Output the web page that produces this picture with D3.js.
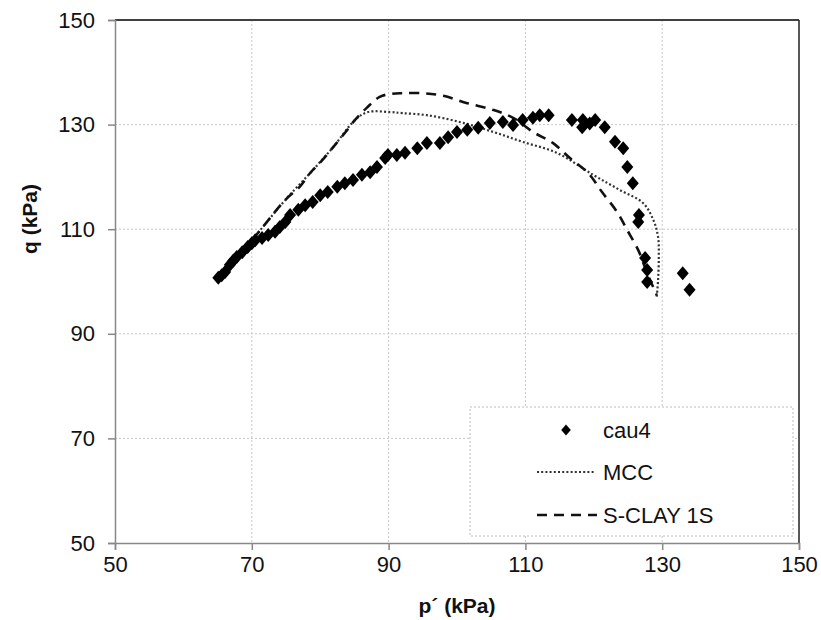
<!DOCTYPE html>
<html>
<head>
<meta charset="utf-8">
<script src="https://cdn.jsdelivr.net/npm/d3@7/dist/d3.min.js"></script>
<style>
  html, body { margin: 0; padding: 0; background: #fff; }
  svg text { font-family: "Liberation Sans", Arial, sans-serif; }
</style>
</head>
<body>
<svg id="chart" width="821" height="620"></svg>
<script>
// ---- data ----
const xTicks = [50, 70, 90, 110, 130, 150];
const yTicks = [50, 70, 90, 110, 130, 150];

const cau4P = [65.1, 65.6, 66.1, 66.8, 67.3, 67.8, 68.6, 69.4, 70.0, 70.5, 71.5, 72.4, 73.4, 74.1, 74.9, 75.6, 76.8, 77.8,
  78.9, 80.0, 81.1, 82.5, 83.6, 84.8, 86.1, 87.3, 88.3, 89.5, 89.9, 91.2, 92.4, 94.2, 95.6, 97.5, 98.7,
  100.0, 101.5, 103.1, 104.8, 106.7, 108.2, 109.6, 111.1, 112.1, 113.4,
  116.8, 118.3, 118.4, 119.4, 120.2, 121.6, 123.1, 124.3, 124.9, 125.7, 126.6, 126.5, 127.5, 127.8, 127.8,
  133.0, 134.0];
const cau4Q = [100.7, 101.2, 101.8, 103.2, 104.0, 104.7, 105.6, 106.6, 107.3, 107.9, 108.3, 108.9, 109.5, 110.4, 111.4, 112.7, 113.7, 114.6,
  115.2, 116.5, 117.1, 118.1, 118.8, 119.4, 120.4, 120.9, 121.9, 123.6, 124.2, 124.2, 124.6, 125.5, 126.5, 126.5, 127.6,
  128.6, 129.0, 129.4, 130.3, 130.5, 129.9, 130.9, 131.3, 131.8, 131.8,
  130.9, 129.5, 130.9, 130.2, 130.9, 129.5, 126.7, 125.5, 121.9, 118.8, 112.7, 111.4, 104.5, 102.2, 99.9,
  101.6, 98.4];

const mccP = [65.5, 71.6, 74.9, 78.5, 81.9, 85.1, 87.0, 90.2, 92.0, 95.6, 100.4, 105.3, 109.6, 114.6,
  119.9, 123.8, 127.2, 128.7, 129.4, 129.5, 129.4, 129.2];
const mccQ = [100.5, 110.4, 115.6, 120.7, 125.7, 130.9, 132.4, 132.4, 132.2, 131.8, 130.5, 128.6, 126.7, 124.6,
  120.4, 117.5, 115.0, 111.8, 108.5, 104.7, 100.3, 97.0];

const sclayP = [65.5, 71.6, 74.9, 77.0, 78.5, 80.3, 81.9, 83.6, 85.1, 86.8, 88.7, 90.5, 92.1, 95.0, 98.0,
  101.5, 105.3, 108.2, 111.1, 114.0, 116.5, 119.2, 121.2, 123.4, 124.9, 126.5, 127.8, 129.2];
const sclayQ = [100.5, 110.4, 115.6, 118.1, 120.7, 123.2, 125.7, 128.4, 130.9, 133.2, 135.3, 135.9, 136.0, 136.0, 135.5,
  134.1, 132.8, 131.3, 128.6, 126.5, 123.6, 120.7, 117.1, 113.3, 109.8, 106.0, 101.6, 97.4];

const seriesNames = ["cau4", "MCC", "S-CLAY 1S"];

// ---- layout ----
const svg = d3.select("#chart");
const m = { left: 115, top: 20, right: 799, bottom: 543 };
const x = d3.scaleLinear().domain([50, 150]).range([m.left, m.right]);
const y = d3.scaleLinear().domain([50, 150]).range([m.bottom, m.top]);

// gridlines
const grid = svg.append("g");
grid.selectAll("line.gx").data(xTicks.slice(1, -1)).enter().append("line")
  .attr("x1", d => x(d)).attr("x2", d => x(d)).attr("y1", m.top).attr("y2", m.bottom)
  .attr("stroke", "#c8c8c8").attr("stroke-width", 1).attr("stroke-dasharray", "2,2");
grid.selectAll("line.gy").data(yTicks.slice(1, -1)).enter().append("line")
  .attr("x1", m.left).attr("x2", m.right).attr("y1", d => y(d)).attr("y2", d => y(d))
  .attr("stroke", "#c8c8c8").attr("stroke-width", 1).attr("stroke-dasharray", "2,2");

// frame top/right dark
svg.append("line").attr("x1", m.left).attr("x2", m.right).attr("y1", m.top).attr("y2", m.top)
  .attr("stroke", "#404040").attr("stroke-width", 2);
svg.append("line").attr("x1", m.right).attr("x2", m.right).attr("y1", m.top).attr("y2", m.bottom)
  .attr("stroke", "#202020").attr("stroke-width", 1.5);

// axes
const xAxis = d3.axisBottom(x).tickValues(xTicks).tickSizeOuter(0).tickSize(7).tickPadding(6);
const yAxis = d3.axisLeft(y).tickValues(yTicks).tickSizeOuter(0).tickSize(7).tickPadding(13);
const gx = svg.append("g").attr("transform", `translate(0,${m.bottom})`).call(xAxis);
const gy = svg.append("g").attr("transform", `translate(${m.left},0)`).call(yAxis);
[gx, gy].forEach(g => {
  g.select(".domain").attr("stroke", "#888").attr("stroke-width", 1.5);
  g.selectAll(".tick line").attr("stroke", "#888").attr("stroke-width", 1.5);
  g.selectAll(".tick text").attr("font-size", 22).attr("fill", "#111")
    .style("font-family", '"Liberation Sans", Arial, sans-serif');
});

// axis titles
svg.append("text").attr("x", (m.left + m.right) / 2).attr("y", 613)
  .attr("text-anchor", "middle").attr("font-size", 21).attr("font-weight", "bold").attr("fill", "#111")
  .text("p´ (kPa)");
svg.append("text").attr("transform", "translate(37,219) rotate(-90)")
  .attr("text-anchor", "middle").attr("font-size", 21).attr("font-weight", "bold").attr("fill", "#111")
  .text("q (kPa)");

// lines
svg.append("path").datum(mccP.map((p, i) => [p, mccQ[i]]))
  .attr("d", d3.line().x(d => x(d[0])).y(d => y(d[1])).curve(d3.curveCatmullRom.alpha(0.5)))
  .attr("fill", "none").attr("stroke", "#333").attr("stroke-width", 2.2).attr("stroke-dasharray", "2,2.2");
svg.append("path").datum(sclayP.map((p, i) => [p, sclayQ[i]]))
  .attr("d", d3.line().x(d => x(d[0])).y(d => y(d[1])).curve(d3.curveCatmullRom.alpha(0.5)))
  .attr("fill", "none").attr("stroke", "#111").attr("stroke-width", 2.6).attr("stroke-dasharray", "10,7");

// diamonds
const diamond = (s) => `M0,${-7 * s}L${6 * s},0L0,${7 * s}L${-6 * s},0Z`;
svg.append("g").selectAll("path").data(cau4P.map((p, i) => [p, cau4Q[i]])).enter().append("path")
  .attr("d", diamond(1)).attr("transform", d => `translate(${x(d[0])},${y(d[1])})`)
  .attr("fill", "#000");

// legend
const lg = svg.append("g");
lg.append("rect").attr("x", 470).attr("y", 407).attr("width", 323).attr("height", 129)
  .attr("fill", "#fff").attr("stroke", "#bbb").attr("stroke-width", 1).attr("stroke-dasharray", "2,2");
const rowsY = [430, 472, 515];
lg.append("path").attr("d", diamond(0.8)).attr("transform", `translate(566,${rowsY[0]})`).attr("fill", "#000");
lg.append("line").attr("x1", 537).attr("x2", 595).attr("y1", rowsY[1]).attr("y2", rowsY[1])
  .attr("stroke", "#333").attr("stroke-width", 2.2).attr("stroke-dasharray", "2,2.2");
lg.append("line").attr("x1", 537).attr("x2", 597).attr("y1", rowsY[2]).attr("y2", rowsY[2])
  .attr("stroke", "#111").attr("stroke-width", 2.6).attr("stroke-dasharray", "10,7");
lg.selectAll("text").data(seriesNames).enter().append("text")
  .attr("x", 603).attr("y", (d, i) => rowsY[i]).attr("dy", "0.36em")
  .attr("font-size", 22).attr("fill", "#111").text(d => d);
</script>
</body>
</html>
